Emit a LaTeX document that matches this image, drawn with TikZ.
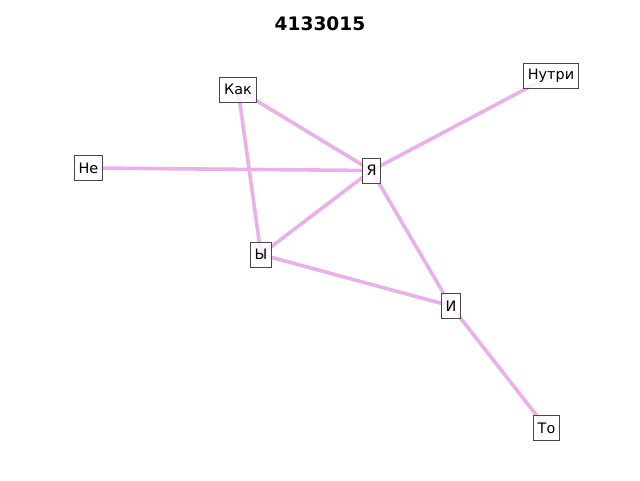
\documentclass[tikz,border=0pt]{standalone}
\usepackage{fontspec}
\setmainfont{DejaVu Sans}
\begin{document}
\begin{tikzpicture}[x=1pt,y=-1pt,
  word/.style={draw=black!72, line width=1pt, fill=white, fill opacity=0.8, text opacity=1,
    inner xsep=4.4pt, inner ysep=0pt, minimum height=25pt,
    font=\fontsize{14.4}{16}\selectfont},
  link/.style={line width=3.6pt, color={rgb,255:red,234;green,176;blue,232}}
]
\useasboundingbox (0,0) rectangle (640,480);
\node[font=\fontsize{18.6}{22}\selectfont\bfseries] (title) at (320,23.5) {4133015};

\coordinate (pKak) at (238,89.5);
\coordinate (pNutri) at (551,75.5);
\coordinate (pNe) at (88.5,168);
\coordinate (pYa) at (371.5,170.5);
\coordinate (pY) at (261,254.5);
\coordinate (pI) at (451,306);
\coordinate (pTo) at (546.5,428);

\draw[link] (pKak) -- (pYa);
\draw[link] (pKak) -- (pY);
\draw[link] (pNe) -- (pYa);
\draw[link] (pYa) -- (pNutri);
\draw[link] (pYa) -- (pY);
\draw[link] (pYa) -- (pI);
\draw[link] (pY) -- (pI);
\draw[link] (pI) -- (pTo);

\node[word] (kak) at (pKak) {Как};
\node[word] (nutri) at (pNutri) {Нутри};
\node[word] (ne) at (pNe) {Не};
\node[word] (ya) at (pYa) {Я};
\node[word] (y) at (pY) {Ы};
\node[word] (i) at (pI) {И};
\node[word] (to) at (pTo) {То};
\end{tikzpicture}
\end{document}
